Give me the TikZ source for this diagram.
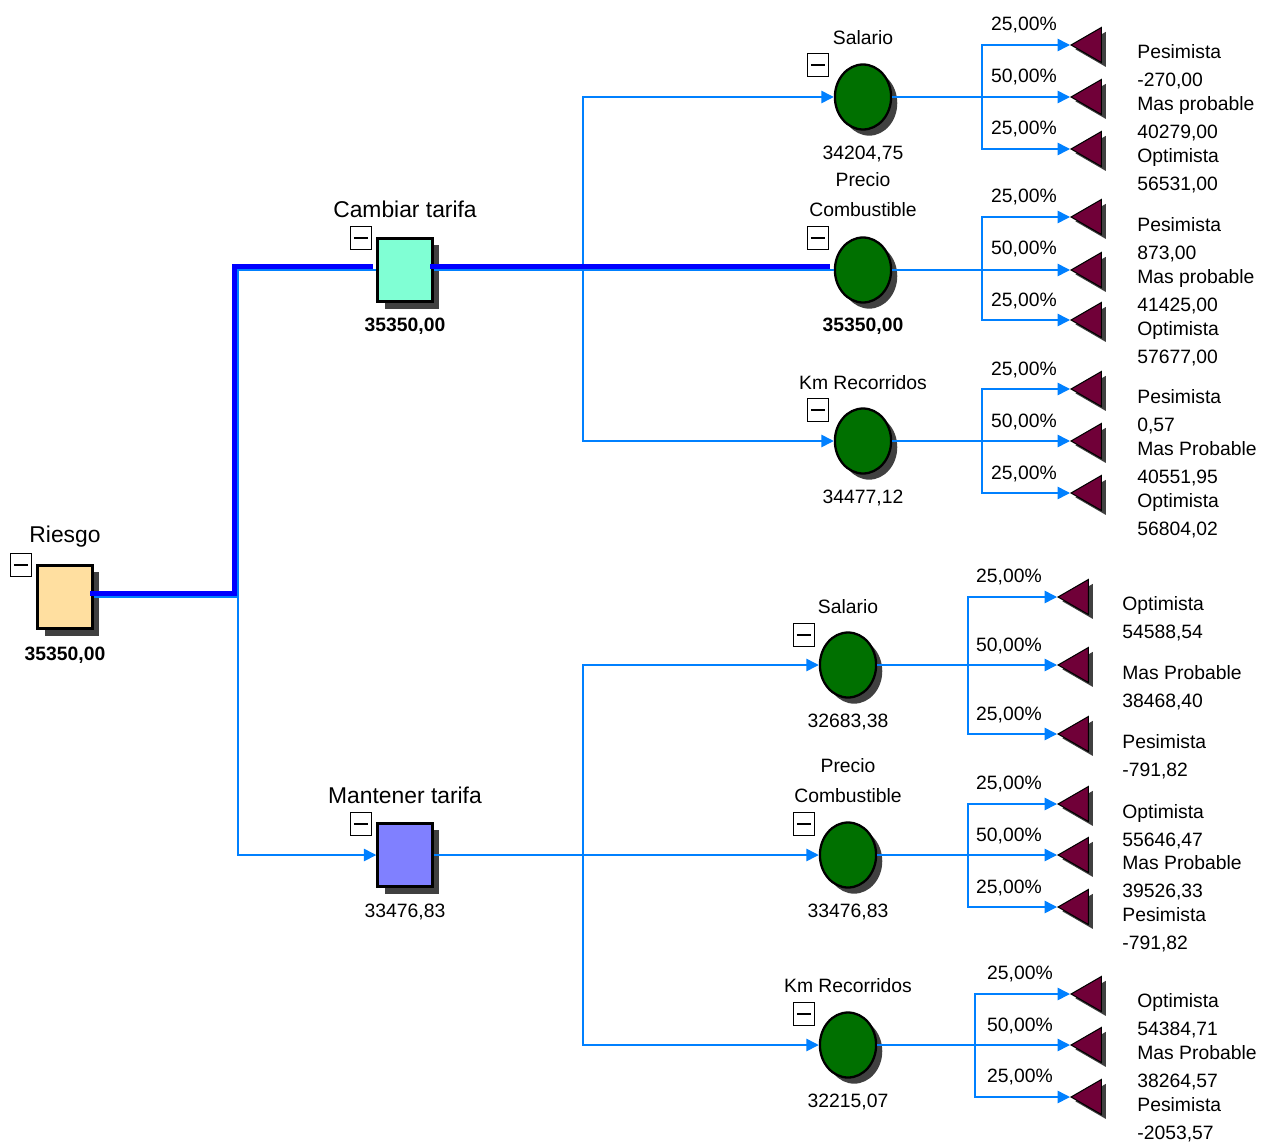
\documentclass[tikz,border=0pt]{standalone}
\usepackage{fontspec}
\setmainfont{Liberation Sans}
\usetikzlibrary{arrows.meta,shapes.geometric,shadows}

\definecolor{riesgofill}{RGB}{255,223,160}
\definecolor{cambiarfill}{RGB}{128,255,212}
\definecolor{mantenerfill}{RGB}{128,128,255}
\definecolor{chancegreen}{RGB}{0,112,0}
\definecolor{termred}{RGB}{112,0,56}
\definecolor{branchblue}{RGB}{0,128,255}
\definecolor{bestblue}{RGB}{0,0,255}
\definecolor{shadowgray}{RGB}{64,64,64}

\tikzset{
  sh/.style={drop shadow={opacity=1,fill=shadowgray,shadow xshift=#1,shadow yshift=-#1}},
  decision/.style={draw, line width=1.7pt, minimum width=31pt, minimum height=36pt, inner sep=0pt, sh=4pt},
  chance/.style={ellipse, draw, line width=1.3pt, fill=chancegreen, minimum width=32pt, minimum height=37pt, inner sep=0pt, sh=3.5pt},
  term/.style={regular polygon, regular polygon sides=3, shape border rotate=90, draw, line width=0.6pt, fill=termred, minimum size=23pt, inner sep=0pt, anchor=corner 1, sh=2.5pt},
  minus/.style={draw, fill=white, line width=0.6pt, minimum width=12pt, minimum height=13.5pt, inner sep=0pt,
    path picture={\draw[line width=0.8pt] ([xshift=2pt]path picture bounding box.west) -- ([xshift=-2pt]path picture bounding box.east);}},
  branch/.style={draw=branchblue, line width=0.85pt},
  arr/.style={-{Triangle[length=7pt,width=7pt]}},
  best/.style={draw=bestblue, line width=3.2pt, transform canvas={shift={(-2pt,2pt)}}},
  txt/.style={font=\fontsize{11}{13}\selectfont, inner sep=0pt},
  big/.style={font=\fontsize{13}{15}\selectfont, inner sep=0pt},
  val/.style={font=\bfseries\fontsize{11}{13}\selectfont, inner sep=0pt},
  two/.style={font=\fontsize{11}{17}\selectfont, inner sep=0pt, align=center},
  tl/.style={font=\fontsize{11}{15.9}\selectfont, inner sep=0pt, align=left, anchor=west}
}

\begin{document}
\begin{tikzpicture}[x=0.02cm,y=-0.02cm]
\useasboundingbox (0,0) rectangle (1270,1142);

% decisions
\node[decision, fill=riesgofill] (riesgo) at (65,597) {};
\node[decision, fill=cambiarfill] (cambiar) at (405,270) {};
\node[decision, fill=mantenerfill] (mantener) at (405,855) {};

\node[big] (riesgo-l) at (65,537) {Riesgo};
\node[big] (cambiar-l) at (405,209) {Cambiar tarifa};
\node[big] (mantener-l) at (405,795) {Mantener tarifa};
\node[val] (riesgo-v) at (65,655) {35350,00};
\node[val] (cambiar-v) at (405,326) {35350,00};
\node[txt] (mantener-v) at (405,912) {33476,83};

% chance nodes
\node[chance] (sal1) at (863,97) {};
\node[chance] (pre1) at (863,270) {};
\node[chance] (km1) at (863,441) {};
\node[chance] (sal2) at (848,665) {};
\node[chance] (pre2) at (848,855) {};
\node[chance] (km2) at (848,1045) {};

\node[txt] (sal1-l) at (863,38) {Salario};
\node[two] (pre1-l) at (863,195) {Precio\\Combustible};
\node[txt] (km1-l) at (863,383) {Km Recorridos};
\node[txt] (sal2-l) at (848,607) {Salario};
\node[two] (pre2-l) at (848,781) {Precio\\Combustible};
\node[txt] (km2-l) at (848,986) {Km Recorridos};

\node[txt] (sal1-v) at (863,154) {34204,75};
\node[val] (pre1-v) at (863,326) {35350,00};
\node[txt] (km1-v) at (863,498) {34477,12};
\node[txt] (sal2-v) at (848,722) {32683,38};
\node[txt] (pre2-v) at (848,912) {33476,83};
\node[txt] (km2-v) at (848,1102) {32215,07};

% collapse boxes
\foreach \n/\x/\y in {m0/21/565,m1/361/238,m2/361/824,m3/818/65,m4/818/238,m5/818/410,m6/804/635,m7/804/824,m8/804/1014}
  \node[minus] (\n) at (\x,\y) {};

% terminals
\foreach \n/\x/\y in {a1/1070/45,a2/1070/97,a3/1070/149,b1/1070/217,b2/1070/270,b3/1070/320,
  c1/1070/389,c2/1070/441,c3/1070/493,d1/1057/597,d2/1057/665,d3/1057/734,
  e1/1057/804,e2/1057/855,e3/1057/907,f1/1070/994,f2/1070/1045,f3/1070/1097}
  \node[term] (\n) at (\x,\y) {};

\foreach \n/\x/\y/\p in {pa1/1024/25/25,pa2/1024/77/50,pa3/1024/129/25,
  pb1/1024/197/25,pb2/1024/249/50,pb3/1024/301/25,
  pc1/1024/370/25,pc2/1024/422/50,pc3/1024/474/25,
  pd1/1009/577/25,pd2/1009/646/50,pd3/1009/715/25,
  pe1/1009/784/25,pe2/1009/836/50,pe3/1009/888/25,
  pf1/1020/974/25,pf2/1020/1026/50,pf3/1020/1077/25}
  \node[txt] (\n) at (\x,\y) {\p,00\%};

\node[tl] (la1) at (1137,67) {Pesimista\\-270,00};
\node[tl] (la2) at (1137,119) {Mas probable\\40279,00};
\node[tl] (la3) at (1137,171) {Optimista\\56531,00};
\node[tl] (lb1) at (1137,240) {Pesimista\\873,00};
\node[tl] (lb2) at (1137,292) {Mas probable\\41425,00};
\node[tl] (lb3) at (1137,344) {Optimista\\57677,00};
\node[tl] (lc1) at (1137,412) {Pesimista\\0,57};
\node[tl] (lc2) at (1137,464) {Mas Probable\\40551,95};
\node[tl] (lc3) at (1137,516) {Optimista\\56804,02};
\node[tl] (ld1) at (1122,619) {Optimista\\54588,54};
\node[tl] (ld2) at (1122,688) {Mas Probable\\38468,40};
\node[tl] (ld3) at (1122,757) {Pesimista\\-791,82};
\node[tl] (le1) at (1122,827) {Optimista\\55646,47};
\node[tl] (le2) at (1122,878) {Mas Probable\\39526,33};
\node[tl] (le3) at (1122,930) {Pesimista\\-791,82};
\node[tl] (lf1) at (1137,1016) {Optimista\\54384,71};
\node[tl] (lf2) at (1137,1068) {Mas Probable\\38264,57};
\node[tl] (lf3) at (1137,1120) {Pesimista\\-2053,57};

% junctions
\coordinate (jr) at (238,597);
\coordinate (jc) at (583,270);
\coordinate (jm) at (583,855);
\coordinate (ja) at (982,97);
\coordinate (jb) at (982,270);
\coordinate (jc2) at (982,441);
\coordinate (jd) at (968,665);
\coordinate (je) at (968,855);
\coordinate (jf) at (975,1045);

% branches
\draw[branch] (riesgo.east) -- (jr) |- (cambiar.west);
\draw[branch,arr] (jr) |- (mantener.west);
\draw[branch] (cambiar.east) -- (jc) -- (pre1.west);
\draw[branch,arr] (jc) |- (sal1.west);
\draw[branch,arr] (jc) |- (km1.west);
\draw[branch] (mantener.east) -- (jm);
\draw[branch,arr] (jm) |- (sal2.west);
\draw[branch,arr] (jm) -- (pre2.west);
\draw[branch,arr] (jm) |- (km2.west);

\foreach \c/\j/\k in {sal1/ja/a,pre1/jb/b,km1/jc2/c,sal2/jd/d,pre2/je/e,km2/jf/f}{
  \draw[branch,arr] (\c.east) -- (\k2.corner 1);
  \draw[branch,arr] (\j) |- (\k1.corner 1);
  \draw[branch,arr] (\j) |- (\k3.corner 1);
}

% optimal path
\draw[best] (riesgo.east) -- (jr) |- (cambiar.west);
\draw[best] (cambiar.east) -- (pre1.west);

\end{tikzpicture}
\end{document}
